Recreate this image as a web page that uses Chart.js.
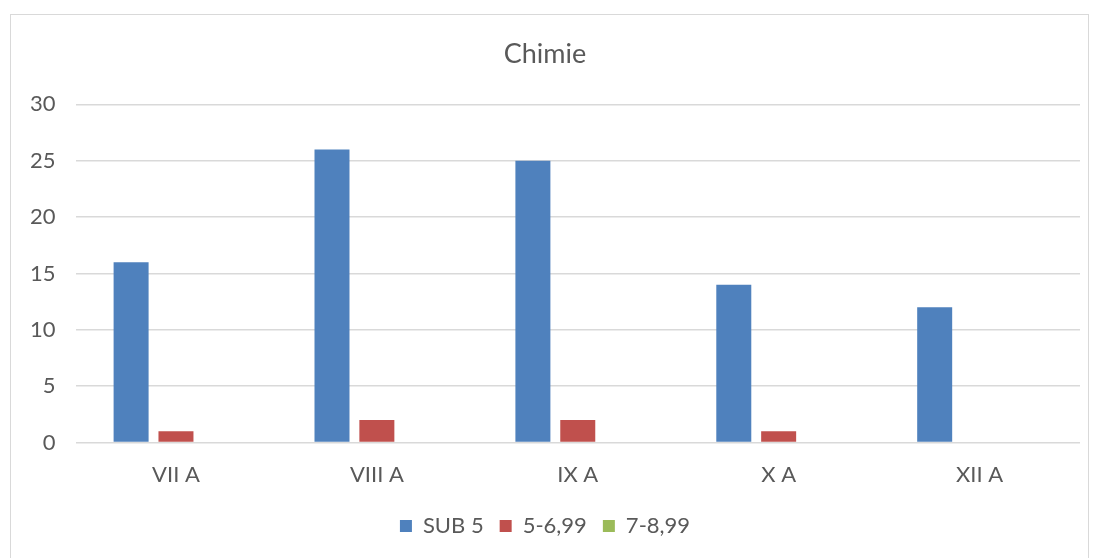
<!DOCTYPE html>
<html>
<head>
<meta charset="utf-8">
<script src="https://cdn.jsdelivr.net/npm/chart.js@4"></script>
<style>
  html, body { margin: 0; padding: 0; background: #fff; }
  #wrap { position: absolute; left: 0; top: 0; width: 1097px; height: 558px; }
  #frame { position: absolute; left: 10px; top: 14px; width: 1079px; height: 560px;
           border: 1.5px solid #d9d9d9; box-sizing: border-box; pointer-events: none; }
</style>
</head>
<body>
<div id="wrap">
  <canvas id="chart" width="1097" height="558"></canvas>
  <div id="frame"></div>
</div>
<script>
const categories = ['VII A', 'VIII A', 'IX A', 'X A', 'XII A'];
const sub5 = [16, 26, 25, 14, 12];
const mid = [1, 2, 2, 1, 0];
const high = [0, 0, 0, 0, 0];
const yTicks = [0, 5, 10, 15, 20, 25, 30];

const textColor = '#595959';
const fontFamily = 'Lato, "Open Sans", sans-serif';

new Chart(document.getElementById('chart'), {
    type: 'bar',
    data: {
        labels: categories,
        datasets: [
            { label: 'SUB 5', data: sub5, backgroundColor: '#4f81bd' },
            { label: '5-6,99', data: mid, backgroundColor: '#c0504d' },
            { label: '7-8,99', data: high, backgroundColor: '#9bbb59' }
        ]
    },
    options: {
        responsive: false,
        animation: false,
        categoryPercentage: 0.67,
        barPercentage: 0.78,
        layout: { padding: { left: 10, right: 17, top: 38, bottom: 11 } },
        plugins: {
            title: {
                display: true,
                text: 'Chimie',
                color: textColor,
                font: { family: fontFamily, size: 27, weight: 'normal' },
                padding: { top: 0, bottom: 34 }
            },
            legend: {
                position: 'bottom',
                labels: {
                    color: textColor,
                    font: { family: fontFamily, size: 22 },
                    boxWidth: 12,
                    boxHeight: 12,
                    padding: 16
                }
            },
            tooltip: { enabled: false }
        },
        scales: {
            x: {
                grid: { display: false },
                border: { display: false },
                ticks: { color: textColor, font: { family: fontFamily, size: 22 }, padding: 11 }
            },
            y: {
                min: 0,
                max: 30,
                afterBuildTicks: axis => { axis.ticks = yTicks.map(v => ({ value: v })); },
                grid: { color: '#d9d9d9', lineWidth: 1.5, drawTicks: false },
                border: { display: false },
                ticks: { color: textColor, font: { family: fontFamily, size: 22 }, padding: 20 }
            }
        }
    }
});
</script>
</body>
</html>
